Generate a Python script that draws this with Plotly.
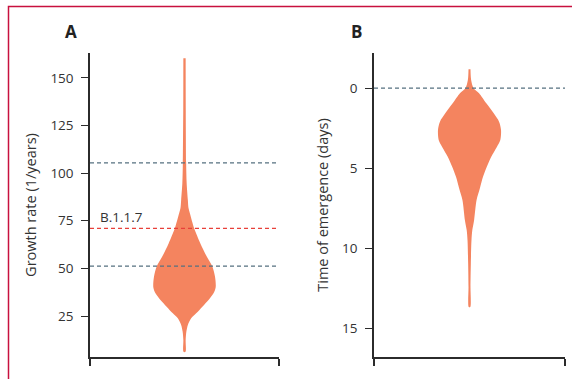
import plotly.graph_objects as go

# ---- Data ----
# Panel A: growth rate (1/years) violin profile (value, relative density)
growth_vals = [160.3, 133, 105.3, 94.8, 85.9, 81.7, 78.9, 71.0, 63.1, 56.1, 51.2,
               45.6, 40.1, 36.9, 33.4, 29.9, 26.4, 23.8, 20.3, 16.7, 12.4, 6.2]
growth_dens = [2.3, 2.5, 3.3, 4.3, 6.7, 8.0, 10.7, 19.3, 31.7, 44.7, 55.3,
               61.0, 62.3, 58.0, 48.0, 35.7, 23.3, 13.3, 6.7, 3.7, 2.3, 2.0]
growth_refs = [105.3, 51.2]      # grey dashed reference lines
b117_rate = 71.0                 # red dashed B.1.1.7 line
growth_ticks = [25, 50, 75, 100, 125, 150]

# Panel B: time of emergence (days) violin profile
tem_vals = [-1.19, -0.52, 0.0, 0.31, 0.94, 1.57, 2.09, 2.61, 3.24, 3.69, 4.28,
            4.91, 5.54, 6.26, 6.99, 8.25, 8.87, 9.5, 10.96, 12.42, 13.68]
tem_dens = [2.0, 3.3, 8.3, 19.3, 34.0, 49.0, 59.7, 63.7, 62.3, 55.0, 44.0,
            35.0, 27.3, 21.0, 14.3, 9.3, 5.7, 4.0, 2.7, 2.0, 1.5]
tem_ref = 0.0
tem_ticks = [0, 5, 10, 15]

# ---- Styling ----
W, H = 572, 379
VIOLIN = "#F4845F"
GREY_DASH = "#557080"
RED_DASH = "#E8403A"
AXIS = "#2b2b2b"
TEXT = "#333333"
FONT = "Open Sans"
HALF_MAX = 0.165  # max half-width in x units


def violin_xy(vals, dens):
    m = max(dens)
    hw = [d / m * HALF_MAX for d in dens]
    xs = [0.5 - h for h in hw] + [0.5 + h for h in reversed(hw)]
    ys = list(vals) + list(reversed(vals))
    return xs, ys


fig = go.Figure()

# Panel A
xa, ya = violin_xy(growth_vals, growth_dens)
fig.add_trace(go.Scatter(x=xa, y=ya, fill="toself", fillcolor=VIOLIN, mode="lines",
                         line=dict(width=0, shape="spline", smoothing=0.8),
                         xaxis="x", yaxis="y", hoverinfo="skip", showlegend=False))
for v in growth_refs:
    fig.add_trace(go.Scatter(x=[0, 1], y=[v, v], mode="lines",
                             line=dict(color=GREY_DASH, width=1.2, dash="4px,3px"),
                             xaxis="x", yaxis="y", showlegend=False))
fig.add_trace(go.Scatter(x=[0, 1], y=[b117_rate, b117_rate], mode="lines",
                         line=dict(color=RED_DASH, width=1.2, dash="4px,3px"),
                         xaxis="x", yaxis="y", showlegend=False))

# Panel B
xb, yb = violin_xy(tem_vals, tem_dens)
fig.add_trace(go.Scatter(x=xb, y=yb, fill="toself", fillcolor=VIOLIN, mode="lines",
                         line=dict(width=0, shape="spline", smoothing=0.8),
                         xaxis="x2", yaxis="y2", hoverinfo="skip", showlegend=False))
fig.add_trace(go.Scatter(x=[0, 1], y=[tem_ref, tem_ref], mode="lines",
                         line=dict(color=GREY_DASH, width=1.2, dash="4px,3px"),
                         xaxis="x2", yaxis="y2", showlegend=False))

ydom = [22 / H, 1 - 53 / H]
xcommon = dict(range=[0, 1], showgrid=False, zeroline=False, showline=True,
               linecolor=AXIS, linewidth=1.5, ticks="outside", tickvals=[0, 1],
               ticklen=7, tickwidth=1.5, tickcolor=AXIS, showticklabels=False,
               fixedrange=True)
ycommon = dict(showgrid=False, zeroline=False, showline=True, linecolor=AXIS,
               linewidth=1.5, ticks="outside", ticklen=7, tickwidth=1.2,
               tickcolor=AXIS, ticklabelstandoff=5,
               tickfont=dict(family=FONT, size=13.5, color=TEXT),
               title_font=dict(family=FONT, size=14.5, color=TEXT))

fig.update_layout(
    width=W, height=H,
    margin=dict(l=0, r=0, t=0, b=0),
    paper_bgcolor="white", plot_bgcolor="white",
    xaxis=dict(domain=[90 / W, 279 / W], anchor="y", **xcommon),
    yaxis=dict(domain=ydom, anchor="x", range=[3.5, 163], tickvals=growth_ticks,
               title=dict(text="Growth rate (1/years)", standoff=10), **ycommon),
    xaxis2=dict(domain=[374 / W, 565 / W], anchor="y2", **xcommon),
    yaxis2=dict(domain=ydom, anchor="x2", range=[16.8, -2.2], tickvals=tem_ticks,
                title=dict(text="Time of emergence (days)", standoff=10), **ycommon),
    annotations=[
        dict(text="<b>A</b>", x=71 / W, y=1 - 32 / H, xref="paper", yref="paper",
             xanchor="center", yanchor="middle",
             showarrow=False, font=dict(family=FONT, size=17, color="#222")),
        dict(text="<b>B</b>", x=356 / W, y=1 - 32 / H, xref="paper", yref="paper",
             xanchor="center", yanchor="middle",
             showarrow=False, font=dict(family=FONT, size=17, color="#222")),
        dict(text="B.1.1.7", x=0.042, y=b117_rate, xref="x", yref="y",
             xanchor="left", yanchor="bottom", yshift=0, showarrow=False,
             font=dict(family=FONT, size=13.5, color=TEXT)),
    ],
    shapes=[
        dict(type="rect", xref="paper", yref="paper", x0=8.5 / W, x1=1.2,
             y0=-0.2, y1=1 - 6.5 / H, line=dict(color="#C8103E", width=1.5),
             layer="below"),
    ],
)

fig.write_html("out.html", config={"displayModeBar": False},
               post_script="document.body.style.margin='0';")
